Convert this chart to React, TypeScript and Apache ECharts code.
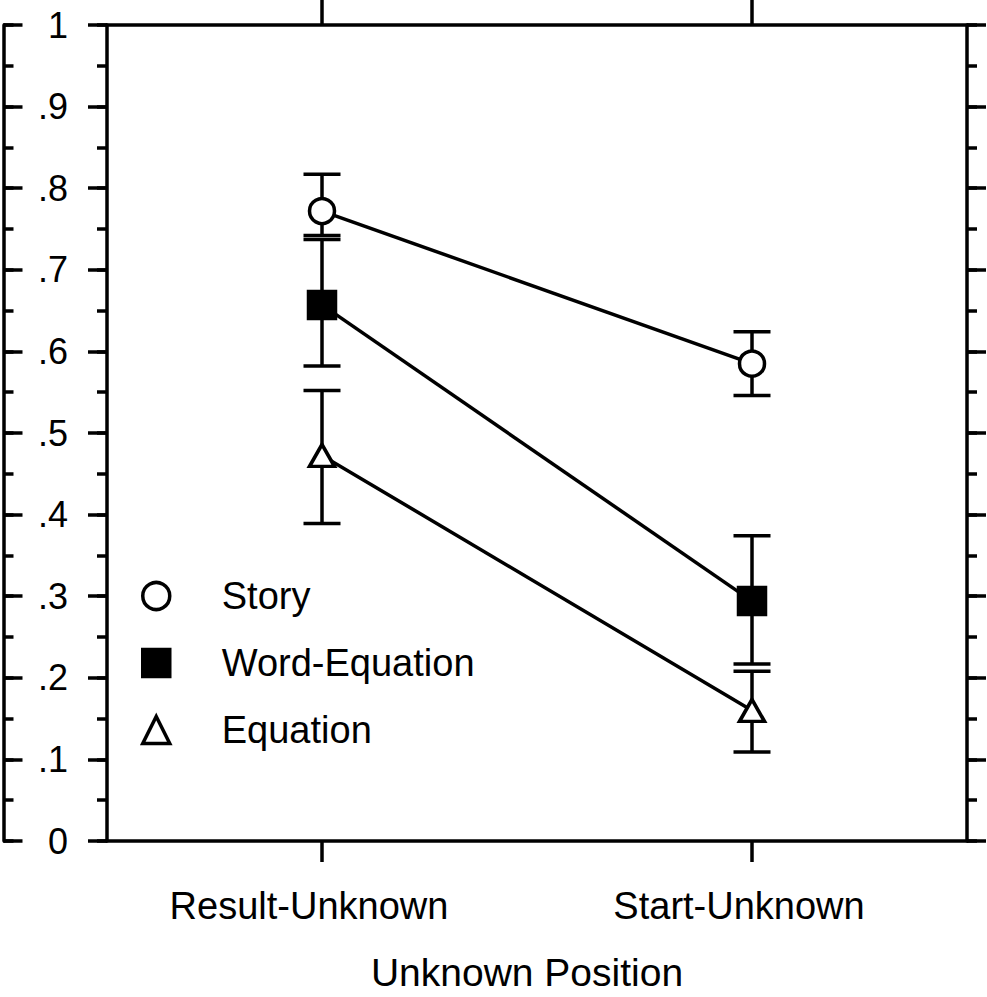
import React, { useEffect, useRef } from "react";
import * as echarts from "echarts";

const categories = ["Result-Unknown", "Start-Unknown"];
const seriesNames = ["Story", "Word-Equation", "Equation"];

const storyMean = [0.772, 0.585];
const storyLow = [0.742, 0.546];
const storyHigh = [0.817, 0.624];

const wordEqMean = [0.657, 0.294];
const wordEqLow = [0.582, 0.217];
const wordEqHigh = [0.737, 0.374];

const equationMean = [0.4725, 0.16];
const equationLow = [0.389, 0.109];
const equationHigh = [0.552, 0.208];

const yTickFormatter = (v: number) =>
  v === 0 ? "0" : v === 1 ? "1" : "." + Math.round(v * 10);

const FONT = "'Liberation Sans', Arial, Helvetica, sans-serif";
const LW = 3.5;

export default function App() {
  const ref = useRef<HTMLDivElement>(null);

  useEffect(() => {
    if (!ref.current) return;
    const chart = echarts.init(ref.current, undefined, { renderer: "svg" });

    const errData = (low: number[], high: number[]) =>
      categories.map((_, i) => [i, low[i], high[i]]);

    const errorSeries = (name: string, low: number[], high: number[]) => ({
      type: "custom",
      name: name + " error",
      z: 1,
      silent: true,
      encode: { x: 0, y: [1, 2] },
      data: errData(low, high),
      renderItem: (params: any, api: any) => {
        const i = api.value(0);
        const lo = api.coord([i, api.value(1)]);
        const hi = api.coord([i, api.value(2)]);
        const hw = 18.5;
        const style = { stroke: "#000", lineWidth: LW, fill: "none" };
        return {
          type: "group",
          children: [
            { type: "line", shape: { x1: lo[0], y1: lo[1], x2: hi[0], y2: hi[1] }, style },
            { type: "line", shape: { x1: lo[0] - hw, y1: lo[1], x2: lo[0] + hw, y2: lo[1] }, style },
            { type: "line", shape: { x1: hi[0] - hw, y1: hi[1], x2: hi[0] + hw, y2: hi[1] }, style },
          ],
        };
      },
    });

    const lineStyle = { color: "#000", width: LW };

    const majorAxis = (position: string, offset: number, inside: boolean, labels: boolean) => ({
      type: "value",
      min: 0,
      max: 1,
      interval: 0.1,
      position,
      offset,
      splitLine: { show: false },
      axisLine: { show: true, onZero: false, lineStyle: { color: "#000", width: LW } },
      axisTick: { show: true, inside, length: 19, lineStyle: { color: "#000", width: LW } },
      axisLabel: labels
        ? { show: true, formatter: yTickFormatter, fontSize: 36, color: "#000", margin: 39, fontFamily: FONT }
        : { show: false },
    });

    const minorAxis = (position: string, offset: number, inside: boolean) => ({
      type: "value",
      min: 0,
      max: 1,
      interval: 0.05,
      position,
      offset,
      splitLine: { show: false },
      axisLine: { show: false },
      axisTick: { show: true, inside, length: 10, lineStyle: { color: "#000", width: LW } },
      axisLabel: { show: false },
    });

    const option: any = {
      animation: false,
      backgroundColor: "#fff",
      textStyle: { fontFamily: FONT, color: "#000" },
      grid: { left: 107, right: 20, top: 25, bottom: 153, containLabel: false },
      legend: {
        orient: "vertical",
        left: 141,
        top: 576,
        padding: 0,
        itemWidth: 27,
        itemHeight: 27,
        itemGap: 27,
        selectedMode: false,
        textStyle: { fontSize: 38, lineHeight: 40, color: "#000", fontFamily: FONT, padding: [0, 0, 0, 47] },
        data: [
          { name: seriesNames[0], icon: "circle", itemStyle: { color: "#fff", borderColor: "#000", borderWidth: LW } },
          { name: seriesNames[1], icon: "rect", itemStyle: { color: "#000", borderColor: "#000", borderWidth: LW } },
          { name: seriesNames[2], icon: "triangle", itemStyle: { color: "#fff", borderColor: "#000", borderWidth: LW } },
        ],
      },
      xAxis: [
        {
          type: "category",
          data: categories,
          position: "bottom",
          boundaryGap: true,
          name: "Unknown Position",
          nameLocation: "middle",
          nameGap: 112,
          nameTextStyle: { fontSize: 39, color: "#000", fontFamily: FONT, padding: [0, 20, 0, 0] },
          axisLine: { show: true, onZero: false, lineStyle: { color: "#000", width: LW } },
          axisTick: { show: true, alignWithLabel: true, length: 21, lineStyle: { color: "#000", width: LW } },
          axisLabel: { fontSize: 38, color: "#000", margin: 46, fontFamily: FONT, padding: [0, 26, 0, 0] },
          splitLine: { show: false },
        },
        {
          type: "category",
          data: categories,
          position: "top",
          boundaryGap: true,
          axisLine: { show: true, onZero: false, lineStyle: { color: "#000", width: LW } },
          axisTick: { show: true, alignWithLabel: true, length: 25, lineStyle: { color: "#000", width: LW } },
          axisLabel: { show: false },
          splitLine: { show: false },
        },
      ],
      yAxis: [
        majorAxis("left", 0, false, true),
        majorAxis("left", 103.5, true, false),
        majorAxis("right", 0, false, false),
        minorAxis("left", 0, false),
        minorAxis("left", 103.5, true),
        minorAxis("right", 0, false),
      ],
      series: [
        errorSeries("Story", storyLow, storyHigh),
        errorSeries("Word-Equation", wordEqLow, wordEqHigh),
        errorSeries("Equation", equationLow, equationHigh),
        {
          type: "line",
          name: seriesNames[0],
          z: 3,
          data: storyMean,
          symbol: "circle",
          symbolSize: 25,
          lineStyle,
          itemStyle: { color: "#fff", borderColor: "#000", borderWidth: LW },
        },
        {
          type: "line",
          name: seriesNames[1],
          z: 3,
          data: wordEqMean,
          symbol: "rect",
          symbolSize: 27,
          lineStyle,
          itemStyle: { color: "#000", borderColor: "#000", borderWidth: LW },
        },
        {
          type: "line",
          name: seriesNames[2],
          z: 3,
          data: equationMean,
          symbol: "triangle",
          symbolSize: [25, 22],
          lineStyle,
          itemStyle: { color: "#fff", borderColor: "#000", borderWidth: LW },
        },
      ],
    };

    chart.setOption(option);
    return () => chart.dispose();
  }, []);

  return (
    <div
      ref={ref}
      style={{ position: "fixed", left: 0, top: 0, width: 987, height: 997, background: "#fff" }}
    />
  );
}
